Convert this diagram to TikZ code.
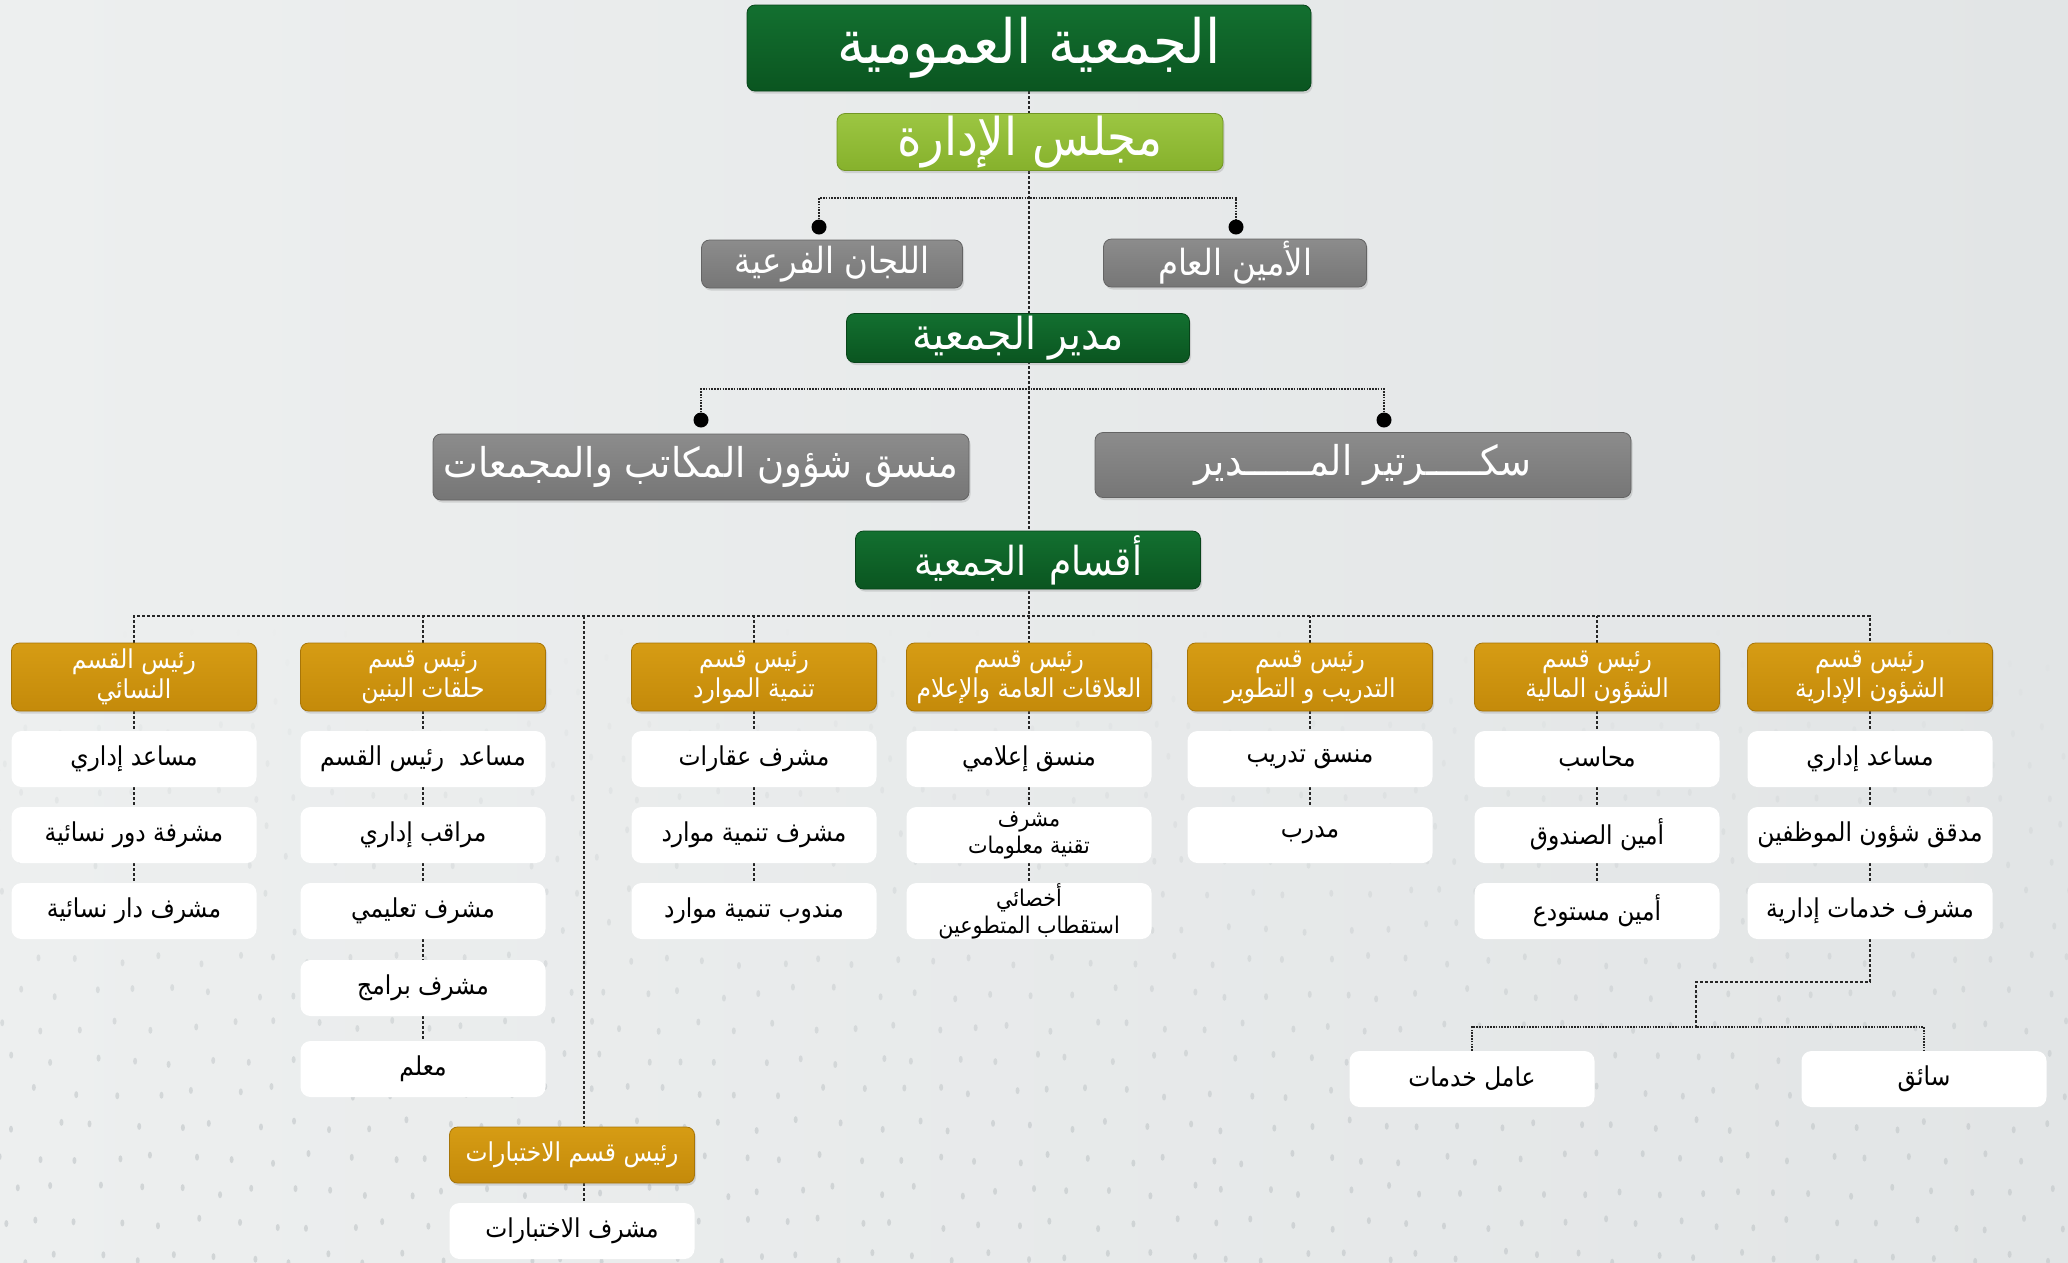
\documentclass[tikz,border=0pt]{standalone}
\usepackage{fontspec}
\usetikzlibrary{shadows}
\TeXXeTstate=1
\newfontfamily\arabicfont[Script=Arabic,FakeStretch=0.9]{DejaVu Sans}
\newcommand\ar[1]{{\arabicfont\beginR #1\endR}}
\definecolor{bgA}{HTML}{EDEFEF}
\definecolor{bgB}{HTML}{E2E5E6}
\definecolor{dotcol}{HTML}{C6CBCD}
\definecolor{dgT}{HTML}{137030}
\definecolor{dgB}{HTML}{0A5520}
\definecolor{lgT}{HTML}{9CC642}
\definecolor{lgB}{HTML}{86B12C}
\definecolor{grT}{HTML}{8C8C8C}
\definecolor{grB}{HTML}{767676}
\definecolor{gdT}{HTML}{D69C14}
\definecolor{gdB}{HTML}{C48A0A}
\pgfdeclarelayer{bg}
\pgfdeclarelayer{lines}
\pgfsetlayers{bg,lines,main}
\tikzset{
  box/.style={rounded corners=8pt, inner sep=0pt, align=center, text=white,
    drop shadow={shadow xshift=1.5pt, shadow yshift=-2.5pt, opacity=0.25}},
  dgbox/.style={box, top color=dgT, bottom color=dgB, draw=dgB!80!black, line width=0.8pt},
  lgbox/.style={box, top color=lgT, bottom color=lgB, draw=lgB!85!black, line width=0.8pt},
  grbox/.style={box, top color=grT, bottom color=grB, draw=grB!85!black, line width=0.8pt},
  gdbox/.style={box, top color=gdT, bottom color=gdB, draw=gdB!85!black, line width=0.8pt,
    minimum width=245pt, minimum height=68pt, font=\fontsize{26}{30}\selectfont},
  wbox/.style={rounded corners=10pt, inner sep=0pt, align=center, fill=white, text=black,
    minimum width=245pt, minimum height=56pt, font=\fontsize{26}{27}\selectfont},
  conn/.style={draw=black!85, line width=1.4pt, dash pattern=on 3pt off 2pt},
  topconn/.style={draw=black!85, line width=1.8pt, dash pattern=on 1.6pt off 1.2pt},
  dotc/.style={circle, fill=black, minimum size=15pt, inner sep=0pt},
}
\begin{document}
\begin{tikzpicture}[x=1pt,y=-1pt]
\useasboundingbox (0,0) rectangle (2068,1262);
\begin{pgfonlayer}{bg}
\shade[left color=bgA, right color=bgB] (0,0) rectangle (2068,1262);
\pgfmathsetseed{7}
\foreach \j in {0,...,19}{
  \foreach \i in {0,...,53}{
    \pgfmathsetmacro{\yy}{630+\j*33+rand*6}
    \pgfmathsetmacro{\xx}{\i*39+mod(\j,2)*19+rand*8}
    \pgfmathsetmacro{\op}{min(1,max(0,(\yy-630)/500))*0.7}
    \fill[dotcol, opacity=\op] (\xx,\yy) ellipse [x radius=2pt, y radius=3.5pt];
  }
}
\end{pgfonlayer}

% top part
\node[dgbox, minimum width=564pt, minimum height=86pt, font=\fontsize{61}{66}\selectfont] (top) at (1029,48) {\ar{الجمعية العمومية}};
\node[lgbox, minimum width=386pt, minimum height=57pt, font=\fontsize{52}{56}\selectfont] (mj) at (1030,142) {\ar{مجلس الإدارة}};
\node[grbox, minimum width=261pt, minimum height=48pt, font=\fontsize{36}{40}\selectfont] (lj) at (832,264) {\ar{اللجان الفرعية}};
\node[grbox, minimum width=263pt, minimum height=48pt, font=\fontsize{36}{40}\selectfont] (am) at (1235,263) {\ar{الأمين العام}};
\node[dgbox, minimum width=343pt, minimum height=49pt, font=\fontsize{44}{46}\selectfont] (dir) at (1018,338) {\ar{مدير الجمعية}};
\node[grbox, minimum width=536pt, minimum height=66pt, font=\fontsize{41}{45}\selectfont] (mns) at (701,467) {\ar{منسق شؤون المكاتب والمجمعات}};
\node[grbox, minimum width=536pt, minimum height=65pt, font=\fontsize{41}{45}\selectfont] (sec) at (1363,465) {\ar{سكـــــرتير المــــــدير}};
\node[dgbox, minimum width=345pt, minimum height=58pt, font=\fontsize{40}{44}\selectfont] (aqs) at (1028,560) {\ar{أقسام\ \ الجمعية}};

\node[dotc] (dL) at (819,227) {};
\node[dotc] (dR) at (1236,227) {};
\node[dotc] (dL2) at (701,420) {};
\node[dotc] (dR2) at (1384,420) {};
\coordinate (b1) at (1029,198);
\coordinate (b2) at (1029,389);
\coordinate (bus) at (1029,616);
\coordinate (ct) at (584,616);

% department heads
\node[gdbox] (g1) at (134,677) {\ar{رئيس القسم}\\\ar{النسائي}};
\node[gdbox] (g2) at (423,677) {\ar{رئيس قسم}\\\ar{حلقات البنين}};
\node[gdbox] (g3) at (754,677) {\ar{رئيس قسم}\\\ar{تنمية الموارد}};
\node[gdbox] (g4) at (1029,677) {\ar{رئيس قسم}\\\ar{العلاقات العامة والإعلام}};
\node[gdbox] (g5) at (1310,677) {\ar{رئيس قسم}\\\ar{التدريب و التطوير}};
\node[gdbox] (g6) at (1597,677) {\ar{رئيس قسم}\\\ar{الشؤون المالية}};
\node[gdbox] (g7) at (1870,677) {\ar{رئيس قسم}\\\ar{الشؤون الإدارية}};

% column 1
\node[wbox] (w11) at (134,759) {\ar{مساعد إداري}};
\node[wbox] (w12) at (134,835) {\ar{مشرفة دور نسائية}};
\node[wbox] (w13) at (134,911) {\ar{مشرف دار نسائية}};
% column 2
\node[wbox] (w21) at (423,759) {\ar{مساعد\ \ رئيس القسم}};
\node[wbox] (w22) at (423,835) {\ar{مراقب إداري}};
\node[wbox] (w23) at (423,911) {\ar{مشرف تعليمي}};
\node[wbox] (w24) at (423,988) {\ar{مشرف برامج}};
\node[wbox] (w25) at (423,1069) {\ar{معلم}};
% column 3
\node[wbox] (w31) at (754,759) {\ar{مشرف عقارات}};
\node[wbox] (w32) at (754,835) {\ar{مشرف تنمية موارد}};
\node[wbox] (w33) at (754,911) {\ar{مندوب تنمية موارد}};
% column 4
\node[wbox] (w41) at (1029,759) {\ar{منسق إعلامي}};
\node[wbox, font=\fontsize{23}{27}\selectfont] (w42) at (1029,835) {\ar{مشرف}\\\ar{تقنية معلومات}};
\node[wbox, font=\fontsize{23}{27}\selectfont] (w43) at (1029,911) {\ar{أخصائي}\\\ar{استقطاب المتطوعين}};
% column 5
\node[wbox] (w51) at (1310,759) {\ar{منسق تدريب}};
\node[wbox] (w52) at (1310,835) {\ar{مدرب}};
% column 6
\node[wbox] (w61) at (1597,759) {\ar{محاسب}};
\node[wbox] (w62) at (1597,835) {\ar{أمين الصندوق}};
\node[wbox] (w63) at (1597,911) {\ar{أمين مستودع}};
% column 7
\node[wbox] (w71) at (1870,759) {\ar{مساعد إداري}};
\node[wbox] (w72) at (1870,835) {\ar{مدقق شؤون الموظفين}};
\node[wbox] (w73) at (1870,911) {\ar{مشرف خدمات إدارية}};
\node[wbox] (svc) at (1472,1079) {\ar{عامل خدمات}};
\node[wbox] (drv) at (1924,1079) {\ar{سائق}};
\coordinate (k1) at (1696,982);
\coordinate (k2) at (1696,1027);
% testing
\node[gdbox, minimum height=56pt] (tst) at (572,1155) {\ar{رئيس قسم الاختبارات}};
\node[wbox] (tsup) at (572,1231) {\ar{مشرف الاختبارات}};

\begin{pgfonlayer}{lines}
\draw[conn] (top.south) -- (top.south |- g4.north);
\draw[topconn] (dL) |- (b1) -| (dR);
\draw[topconn] (dL2) |- (b2) -| (dR2);
\draw[conn] (g1.north) |- (bus) -| (g7.north);
\foreach \g in {g2,g3,g5,g6} \draw[conn] (\g.north) -- (\g.north |- bus);
\draw[conn] (ct) -- (ct |- tst.north);
\draw[conn] (tst.south -| ct) -- (tsup.north -| ct);
\draw[conn] (g1) -- (w11) -- (w12) -- (w13);
\draw[conn] (g2) -- (w21) -- (w22) -- (w23) -- (w24) -- (w25);
\draw[conn] (g3) -- (w31) -- (w32) -- (w33);
\draw[conn] (g4) -- (w41) -- (w42) -- (w43);
\draw[conn] (g5) -- (w51) -- (w52);
\draw[conn] (g6) -- (w61) -- (w62) -- (w63);
\draw[conn] (g7) -- (w71) -- (w72) -- (w73);
\draw[conn] (w73.south) |- (k1) -- (k2);
\draw[topconn] (svc.north) |- (k2) -| (drv.north);
\end{pgfonlayer}
\end{tikzpicture}
\end{document}
